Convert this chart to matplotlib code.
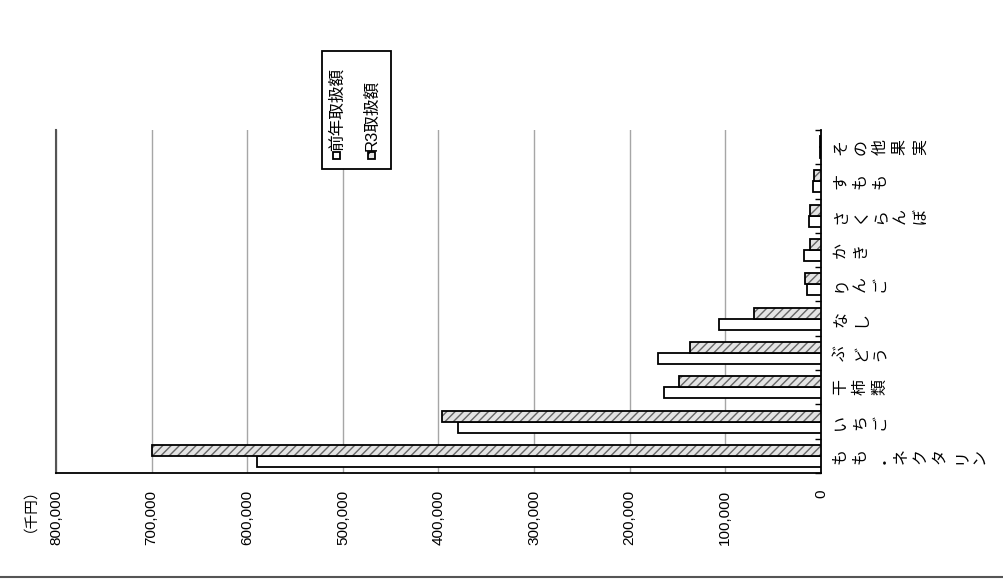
import numpy as np
import matplotlib
matplotlib.use("Agg")
import matplotlib.pyplot as plt
from matplotlib.patches import Rectangle
from matplotlib.lines import Line2D

plt.rcParams['font.family'] = ['Liberation Sans', 'Noto Sans CJK JP', 'DejaVu Sans']
plt.rcParams['hatch.linewidth'] = 1.0

# data (千円)
categories = ['もも・ネクタリン', 'いちご', '干柿類', 'ぶどう', 'なし',
              'りんご', 'かき', 'さくらんぼ', 'すもも', 'その他果実']
prev_year = [590000, 380000, 164000, 170000, 107000, 15000, 18000, 12500, 8000, 1500]
r3_year = [700000, 396000, 148000, 137000, 70000, 17000, 12000, 11500, 7000, 1500]
value_ticks = [0, 100000, 200000, 300000, 400000, 500000, 600000, 700000, 800000]
legend_labels = ['前年取扱額', 'R3取扱額']
unit_label = '（千円）'

W, H = 1004, 587
fig = plt.figure(figsize=(W / 100, H / 100), dpi=100)
ax = fig.add_axes([56 / W, 1 - 473 / H, (821 - 56) / W, (473 - 130) / H])

y = np.arange(len(categories))
h = 0.32
ax.barh(y - h / 2, prev_year, height=h, color='white', edgecolor='black', lw=1.3, zorder=3)
# hatched fill, then a black outline on top
ax.barh(y + h / 2, r3_year, height=h, color='#e4e4e4', edgecolor='#666666',
        hatch='////', lw=0, zorder=3)
ax.barh(y + h / 2, r3_year, height=h, fill=False, edgecolor='black', lw=1.3, zorder=4)

ax.set_xlim(800000, 0)
ax.set_ylim(-0.5, len(categories) - 0.5)

ax.set_xticks(value_ticks)
ax.set_xticklabels([f'{v:,}' for v in value_ticks])
ax.tick_params(axis='x', length=0, pad=12, labelrotation=90, labelsize=11)

ax.yaxis.tick_right()
ax.set_yticks(np.arange(-0.5, len(categories), 1))
ax.set_yticklabels([])
ax.tick_params(axis='y', direction='in', length=4, width=1, right=True, left=False)

ax.grid(axis='x', color='#a6a6a6', lw=1)
ax.grid(axis='y', visible=False)
ax.set_axisbelow(True)

ax.spines['top'].set_visible(False)
ax.spines['left'].set_color('#555555')
ax.spines['left'].set_linewidth(1.5)
ax.spines['bottom'].set_linewidth(1.3)
ax.spines['right'].set_linewidth(1.3)

# category labels, vertical text
for i, c in enumerate(categories):
    ax.text(1 + 11 / 765, i, '\n'.join(c), transform=ax.get_yaxis_transform(),
            rotation=90, ha='left', va='center', multialignment='center',
            fontsize=11.5, linespacing=1.22,
            family=['Noto Sans CJK JP', 'DejaVu Sans'])

fig.text(22 / W, 1 - 474 / H, unit_label, rotation=90, ha='center', va='top',
         fontsize=10.5, family=['Noto Sans CJK JP', 'DejaVu Sans'])

# legend (rotated, drawn by hand)
fig.add_artist(Rectangle((322 / W, 1 - 169 / H), (391 - 322) / W, (169 - 51) / H,
                         transform=fig.transFigure, fc='white', ec='black', lw=1.3, zorder=5))
fig.add_artist(Rectangle((333 / W, 1 - 159 / H), 7 / W, 7 / H, transform=fig.transFigure,
                         fc='white', ec='black', lw=1.3, zorder=6))
fig.add_artist(Rectangle((368 / W, 1 - 159 / H), 7 / W, 7 / H, transform=fig.transFigure,
                         fc='#e4e4e4', ec='black', hatch='///', lw=1.3, zorder=6))
fig.text(337 / W, 1 - 151 / H, legend_labels[0], rotation=90, ha='center', va='bottom',
         fontsize=12, zorder=7)
fig.text(372 / W, 1 - 151 / H, legend_labels[1], rotation=90, ha='center', va='bottom',
         fontsize=12, zorder=7)

fig.add_artist(Line2D([0, 1], [1 - 577 / H] * 2, transform=fig.transFigure,
                      color='#555555', lw=1.5))

fig.savefig('out.png', dpi=100)
